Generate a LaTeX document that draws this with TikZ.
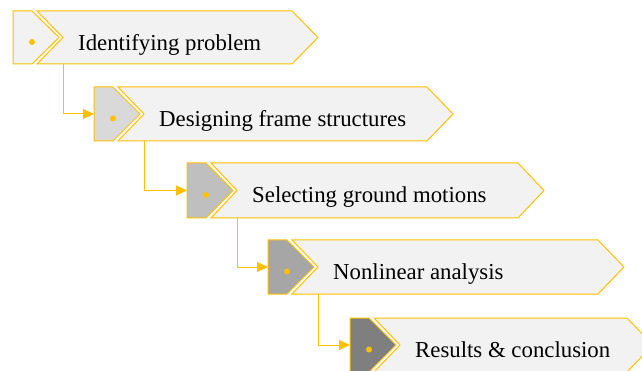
\documentclass[tikz,border=0pt]{standalone}
\usepackage{fontspec}
\setmainfont{Liberation Serif}
\usetikzlibrary{arrows.meta}
\definecolor{gold}{HTML}{FFC000}
\definecolor{panel}{HTML}{F2F2F2}
\definecolor{g1}{HTML}{F2F2F2}
\definecolor{g2}{HTML}{D9D9D9}
\definecolor{g3}{HTML}{BFBFBF}
\definecolor{g4}{HTML}{A6A6A6}
\definecolor{g5}{HTML}{7F7F7F}
\tikzset{
  boxline/.style={draw=gold, line width=1pt, line join=miter},
  lbl/.style={inner sep=0pt, font=\fontsize{22.8}{27}\selectfont, text=black},
  conn/.style={draw=gold, line width=1pt, -{Triangle[length=11pt,width=10pt]}},
}
\newcommand\chevrow[7]{%
  \pgfmathsetmacro\mymid{(#3+#4)/2}%
  \draw[boxline, fill=#6] (#2,#3) -- ({#2+19},#3) -- ({#2+46},\mymid) -- ({#2+19},#4) -- (#2,#4) -- cycle;
  \draw[boxline, fill=panel] ({#2+24},#3) -- (#5,#3) -- ({#5+26},\mymid) -- (#5,#4) -- ({#2+24},#4) -- ({#2+50},\mymid) -- cycle;
  \fill[gold] ({#2+19},{\mymid+4.5}) circle[radius=3pt];
  \node[lbl, anchor=base west] (#1-text) at ({#2+65},{#3+39.5}) {#7};
  \coordinate (#1-in) at (#2,\mymid);
  \coordinate (#1-out) at ({#2+50},#4);
}
\begin{document}
\begin{tikzpicture}[x=1pt,y=-1pt]
\useasboundingbox (0,0) rectangle (642,371);
\clip (0,0) rectangle (642,371);
\chevrow{r1}{13}{11}{64}{292}{g1}{Identifying problem}
\chevrow{r2}{94}{87}{141}{427}{g2}{Designing frame structures}
\chevrow{r3}{187}{163}{218}{518}{g3}{Selecting ground motions}
\chevrow{r4}{268}{240}{294}{598}{g4}{Nonlinear analysis}
\chevrow{r5}{350}{318}{372}{627}{g5}{Results \& conclusion}
\draw[conn] (r1-out) |- (r2-in);
\draw[conn] (r2-out) |- (r3-in);
\draw[conn] (r3-out) |- (r4-in);
\draw[conn] (r4-out) |- (r5-in);
\end{tikzpicture}
\end{document}
